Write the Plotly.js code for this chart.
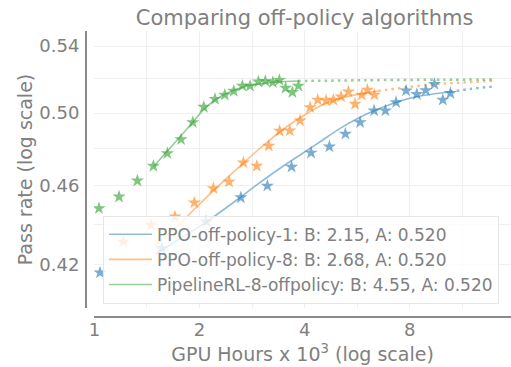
<!DOCTYPE html>
<html>
<head>
<meta charset="utf-8">
<script src="https://cdn.plot.ly/plotly-3.0.1.min.js"></script>
<style>html,body{margin:0;padding:0;overflow:hidden;background:#fff}</style>
</head>
<body>
<div id="chart" style="width:511px;height:367px"></div>
<script>
// Observed pass rates per run (GPU hours in thousands)
const ppo1X = [1.038, 1.560, 2.089, 2.627, 3.129, 3.670, 4.174, 4.709, 5.233, 5.768, 6.325, 6.813, 7.311, 7.809, 8.381, 8.894, 9.412, 9.947, 10.459];
const ppo1Y = [0.4163, 0.4281, 0.4414, 0.4538, 0.4599, 0.4700, 0.4777, 0.4811, 0.4882, 0.4947, 0.5014, 0.5014, 0.5062, 0.5130, 0.5109, 0.5132, 0.5169, 0.5076, 0.5115];

const ppo8X = [1.211, 1.454, 1.702, 1.933, 2.192, 2.431, 2.671, 2.918, 3.158, 3.392, 3.627, 3.882, 4.147, 4.363, 4.608, 4.835, 5.087, 5.338, 5.579, 5.833, 6.052, 6.338];
const ppo8Y = [0.4313, 0.4397, 0.4439, 0.4511, 0.4586, 0.4621, 0.4723, 0.4705, 0.4815, 0.4898, 0.4900, 0.4957, 0.5033, 0.5076, 0.5072, 0.5076, 0.5095, 0.5124, 0.5052, 0.5105, 0.5134, 0.5105];

const pipeX = [1.031, 1.177, 1.328, 1.476, 1.618, 1.771, 1.913, 2.058, 2.216, 2.363, 2.507, 2.654, 2.792, 2.949, 3.088, 3.243, 3.387, 3.528, 3.690, 3.839];
const pipeY = [0.4482, 0.4542, 0.4626, 0.4705, 0.4774, 0.4851, 0.4947, 0.5035, 0.5081, 0.5105, 0.5128, 0.5158, 0.5158, 0.5183, 0.5187, 0.5180, 0.5193, 0.5146, 0.5121, 0.5158];

// Fitted sigmoid curves over the observed range
const ppo1FitX = [1.502, 1.760, 2.098, 2.558, 2.918, 3.403, 3.882, 4.430, 5.054, 5.768, 6.580, 7.506, 8.565, 10.44];
const ppo1FitY = [0.4253, 0.4328, 0.4414, 0.4525, 0.4604, 0.4693, 0.4765, 0.4838, 0.4913, 0.4976, 0.5027, 0.5070, 0.5099, 0.5124];
const ppo8FitX = [1.492, 1.760, 2.192, 2.671, 2.982, 3.403, 3.882, 4.430, 5.054, 5.768, 6.494];
const ppo8FitY = [0.4293, 0.4406, 0.4574, 0.4721, 0.4802, 0.4895, 0.4973, 0.5041, 0.5085, 0.5111, 0.5128];
const pipeFitX = [1.476, 1.612, 1.760, 1.920, 2.052, 2.216, 2.447, 2.732, 3.048, 3.403, 3.832];
const pipeFitY = [0.4701, 0.4783, 0.4866, 0.4951, 0.5018, 0.5076, 0.5124, 0.5158, 0.5174, 0.5183, 0.5187];

// Extrapolation of the fits beyond the observed range
const ppo1ExtX = [10.44, 11.91, 13.74];
const ppo1ExtY = [0.5124, 0.5140, 0.5154];
const ppo8ExtX = [6.494, 8.0, 9.561, 13.89];
const ppo8ExtY = [0.5128, 0.5152, 0.5169, 0.5189];
const pipeExtX = [3.832, 6.0, 10.0, 14.04];
const pipeExtY = [0.5187, 0.5192, 0.5195, 0.5196];

const names = ['PPO-off-policy-1: B: 2.15, A: 0.520',
               'PPO-off-policy-8: B: 2.68, A: 0.520',
               'PipelineRL-8-offpolicy: B: 4.55, A: 0.520'];

const xTicks = [1, 2, 4, 8];
const xTickText = ['1', '2', '4', '8'];
const xMinorGrid = [1.4142, 2.8284, 5.6569, 11.3137];
const yTicks = [0.42, 0.46, 0.50, 0.54];
const yTickText = ['0.42', '0.46', '0.50', '0.54'];
const yMinorGrid = [0.44, 0.48, 0.52];

const lineCol = ['rgba(31,119,180,0.5)', 'rgba(255,127,14,0.5)', 'rgba(44,160,44,0.5)'];
const starCol = ['rgba(31,119,180,0.6)', 'rgba(255,127,14,0.6)', 'rgba(44,160,44,0.6)'];

const series = [
  {x: ppo1X, y: ppo1Y, fx: ppo1FitX, fy: ppo1FitY, ex: ppo1ExtX, ey: ppo1ExtY},
  {x: ppo8X, y: ppo8Y, fx: ppo8FitX, fy: ppo8FitY, ex: ppo8ExtX, ey: ppo8ExtY},
  {x: pipeX, y: pipeY, fx: pipeFitX, fy: pipeFitY, ex: pipeExtX, ey: pipeExtY}
];

const traces = [];
series.forEach((s, i) => {
  traces.push({x: s.ex, y: s.ey, type: 'scatter', mode: 'lines', showlegend: false, hoverinfo: 'skip',
    line: {color: lineCol[i], width: 2.5, dash: '2.5px,4.1px', shape: 'spline', smoothing: 0.6}});
});
series.forEach((s, i) => {
  traces.push({x: s.fx, y: s.fy, type: 'scatter', mode: 'lines', name: names[i],
    line: {color: lineCol[i], width: 1.6, shape: 'spline', smoothing: 0.6}});
});
series.forEach((s, i) => {
  traces.push({x: s.x, y: s.y, type: 'scatter', mode: 'markers', showlegend: false,
    marker: {symbol: 'star', size: 10, color: starCol[i], line: {width: 0}}});
});

const grey = '#808080';
const gridCol = '#efefef';
const axisCommon = {
  type: 'log', showgrid: true, gridcolor: gridCol, gridwidth: 1, zeroline: false,
  showline: false, ticks: 'outside', tickcolor: 'rgba(0,0,0,0)',
  tickfont: {size: 18, color: grey}
};

const layout = {
  width: 511, height: 367,
  margin: {l: 94, r: 0, t: 31, b: 59},
  paper_bgcolor: '#ffffff', plot_bgcolor: '#ffffff',
  font: {family: 'DejaVu Sans', color: grey},
  title: {text: 'Comparing off-policy algorithms', font: {size: 21, color: grey},
    xref: 'container', x: 0.596, xanchor: 'center', yref: 'container', y: 0.951, yanchor: 'middle'},
  xaxis: Object.assign({}, axisCommon, {
    range: [-0.001, 1.193], tickvals: xTicks, ticktext: xTickText, ticklen: 5,
    minor: {tickvals: xMinorGrid, showgrid: true, gridcolor: gridCol, gridwidth: 1, ticks: ''},
    title: {text: 'GPU Hours x 10<sup>3</sup> (log scale)', font: {size: 19, color: grey}, standoff: 9}
  }),
  yaxis: Object.assign({}, axisCommon, {
    range: [-0.39822, -0.26013], tickvals: yTicks, ticktext: yTickText, ticklen: 10,
    minor: {tickvals: yMinorGrid, showgrid: true, gridcolor: gridCol, gridwidth: 1, ticks: ''},
    title: {text: 'Pass rate (log scale)', font: {size: 19, color: grey}, standoff: 1}
  }),
  legend: {
    x: 0.0216, xanchor: 'left', y: 0.333, yanchor: 'top',
    bgcolor: 'rgba(255,255,255,0.8)', bordercolor: '#e6e6e6', borderwidth: 1,
    font: {size: 17, color: grey}, tracegroupgap: 0, itemwidth: 43
  },
  shapes: [
    {type: 'line', xref: 'paper', yref: 'paper', x0: 0, x1: 1.05, y0: -0.0325, y1: -0.0325,
      line: {color: '#8a8a8a', width: 2}},
    {type: 'line', xref: 'paper', yref: 'paper', x0: -0.0192, x1: -0.0192, y0: 0, y1: 1,
      line: {color: '#8a8a8a', width: 2}}
  ],
  showlegend: true
};

Plotly.newPlot('chart', traces, layout, {displayModeBar: false, staticPlot: true});
</script>
</body>
</html>
